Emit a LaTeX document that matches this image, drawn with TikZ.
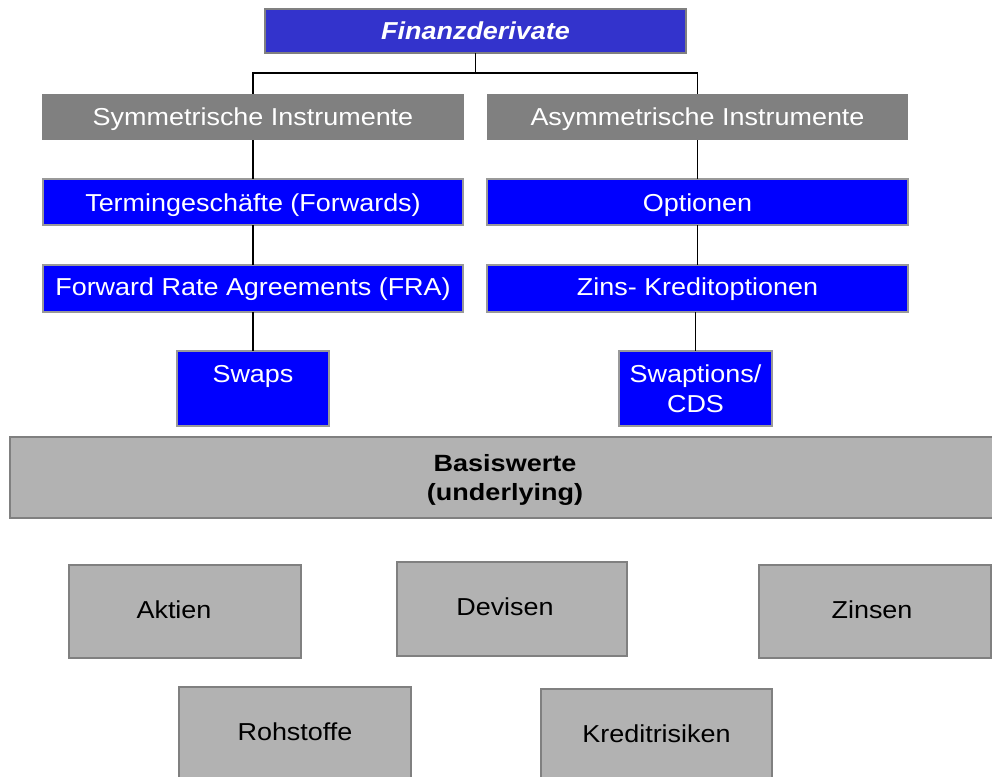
\documentclass[tikz,border=0pt]{standalone}
\usepackage{fontspec}
\setmainfont[FakeStretch=1.1]{Liberation Sans}
\newfontfamily\widefont[FakeStretch=1.15]{Liberation Sans}
\definecolor{finblue}{HTML}{3333CC}
\definecolor{pureblue}{HTML}{0000FF}
\definecolor{darkgr}{HTML}{808080}
\definecolor{lightgr}{HTML}{B2B2B2}
\definecolor{bordergr}{HTML}{999999}
\begin{document}
\begin{tikzpicture}[x=1pt,y=-1pt,
  every node/.style={font=\fontsize{24.5}{30}\selectfont, inner sep=0pt, outer sep=0pt},
  bl/.style={text height=#1, text depth=4pt},
  finbox/.style={draw=darkgr, line width=2pt, fill=finblue, text=white, font=\fontsize{24.5}{30}\selectfont\bfseries\itshape},
  catbox/.style={fill=darkgr, text=white},
  bluebox/.style={draw=bordergr, line width=2pt, fill=pureblue, text=white, align=center},
  basebox/.style={draw=darkgr, line width=2pt, fill=lightgr, text=black, align=center},
  conn/.style={draw=black, line width=1.3pt}
]
\useasboundingbox (0,0) rectangle (992,776);

\node[finbox, bl=20.6pt, minimum width=421pt, minimum height=44pt] (fin) at (475.5,31) {Finanzderivate};
\node[catbox, bl=19.4pt, minimum width=422pt, minimum height=46pt] (sym) at (253,117.3) {Symmetrische Instrumente};
\node[catbox, bl=19.4pt, minimum width=421pt, minimum height=46pt] (asym) at (697.5,117.3) {Asymmetrische Instrumente};

\node[bluebox, bl=22pt, minimum width=420pt, minimum height=46pt] (term) at (253,202.3) {Termingeschäfte (Forwards)};
\node[bluebox, bl=17.4pt, minimum width=420pt, minimum height=47pt] (fra) at (253,288.4) {Forward Rate Agreements (FRA)};
\node[bluebox, minimum width=152pt, text height=31pt, text depth=44pt, anchor=north] (swaps) at (253,351) {Swaps};

\node[bluebox, bl=22pt, minimum width=421pt, minimum height=46pt] (opt) at (697.5,202.3) {Optionen};
\node[bluebox, bl=17.4pt, minimum width=421pt, minimum height=47pt] (zins) at (697.5,288.4) {Zins- Kreditoptionen};
\node[bluebox, minimum width=153pt, minimum height=75pt] (swapt) at (695.5,388.5) {Swaptions/\\CDS};

\node[basebox, minimum width=990pt, minimum height=81pt, font=\fontsize{23.5}{29}\selectfont\widefont\bfseries] (basis) at (505,477.5) {\rule{0pt}{22.4pt}Basiswerte\\(underlying)};

\node[basebox, bl=17pt, minimum width=232pt, minimum height=93pt] (akt) at (185,611.5) {\hspace*{-22pt}Aktien};
\node[basebox, bl=17pt, minimum width=230pt, minimum height=94pt] (dev) at (512,609) {\hspace*{-14pt}Devisen};
\node[basebox, bl=17pt, minimum width=232pt, minimum height=93pt] (zin) at (875,611.5) {\hspace*{-6pt}Zinsen};
\node[basebox, bl=17pt, minimum width=232pt, minimum height=93pt] (roh) at (295,733.5) {Rohstoffe};
\node[basebox, bl=17pt, minimum width=231pt, minimum height=93pt] (kred) at (656.5,735.5) {Kreditrisiken};

\coordinate (junction) at ([yshift=-20pt]fin.south);
\draw[conn] (fin.south) -- (junction);
\draw[conn] (junction) -| (sym.north);
\draw[conn] (junction) -| (asym.north);
\draw[conn] (sym.south) -- (term.north);
\draw[conn] (term.south) -- (fra.north);
\draw[conn] (fra.south) -- (swaps.north);
\draw[conn] (asym.south) -- (opt.north);
\draw[conn] (opt.south) -- (zins.north);
\draw[conn] (zins.south -| swapt.north) -- (swapt.north);
\end{tikzpicture}
\end{document}
